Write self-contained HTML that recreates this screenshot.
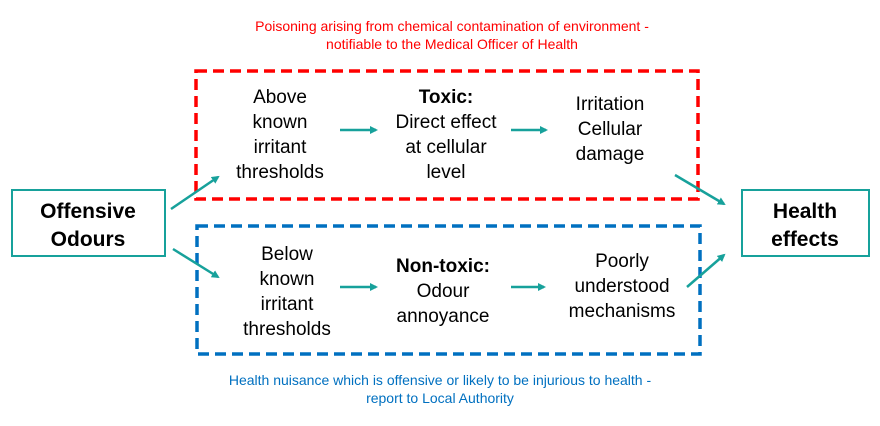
<!DOCTYPE html>
<html><head><style>
body{margin:0;background:#fff;}
svg text{font-family:"Liberation Sans",Arial,sans-serif;}
</style></head><body>
<svg width="880" height="421" viewBox="0 0 880 421" xmlns="http://www.w3.org/2000/svg">
<defs>
<marker id="a" markerWidth="8" markerHeight="8" refX="6" refY="4" orient="auto" markerUnits="userSpaceOnUse"><path d="M0,0 L8,4 L0,8 z" fill="#17a19b"/></marker>
</defs>
<text x="452" y="31" font-size="14" fill="#ff0000" text-anchor="middle">Poisoning arising from chemical contamination of environment -</text>
<text x="452" y="49" font-size="14" fill="#ff0000" text-anchor="middle">notifiable to the Medical Officer of Health</text>
<text x="440" y="385" font-size="14" fill="#0070c0" text-anchor="middle">Health nuisance which is offensive or likely to be injurious to health -</text>
<text x="440" y="403" font-size="14" fill="#0070c0" text-anchor="middle">report to Local Authority</text>
<rect x="196" y="71" width="502" height="128" fill="none" stroke="#ff0000" stroke-width="3.5" stroke-dasharray="11,6"/>
<rect x="197" y="226" width="503" height="128" fill="none" stroke="#0070c0" stroke-width="3.5" stroke-dasharray="11,6"/>
<rect x="12" y="190" width="153" height="66" fill="#fff" stroke="#17a19b" stroke-width="2"/>
<rect x="742" y="190" width="127" height="66" fill="#fff" stroke="#17a19b" stroke-width="2"/>
<g font-size="21" font-weight="bold" text-anchor="middle" fill="#000">
<text x="88" y="218">Offensive</text><text x="88" y="246">Odours</text>
<text x="805" y="218">Health</text><text x="805" y="246">effects</text>
</g>
<g font-size="19" text-anchor="middle" fill="#000">
<text x="280" y="103">Above</text><text x="280" y="128">known</text><text x="280" y="153">irritant</text><text x="280" y="178">thresholds</text>
<text x="446" y="103" font-weight="bold">Toxic:</text><text x="446" y="128">Direct effect</text><text x="446" y="153">at cellular</text><text x="446" y="178">level</text>
<text x="610" y="110">Irritation</text><text x="610" y="135">Cellular</text><text x="610" y="160">damage</text>
<text x="287" y="260">Below</text><text x="287" y="285">known</text><text x="287" y="310">irritant</text><text x="287" y="335">thresholds</text>
<text x="443" y="272" font-weight="bold">Non-toxic:</text><text x="443" y="297">Odour</text><text x="443" y="322">annoyance</text>
<text x="622" y="267">Poorly</text><text x="622" y="292">understood</text><text x="622" y="317">mechanisms</text>
</g>
<g stroke="#17a19b" stroke-width="2.5" marker-end="url(#a)">
<line x1="171" y1="209" x2="218" y2="177"/>
<line x1="173" y1="249" x2="218" y2="277"/>
<line x1="340" y1="130" x2="376" y2="130"/>
<line x1="511" y1="130" x2="546" y2="130"/>
<line x1="340" y1="287" x2="376" y2="287"/>
<line x1="511" y1="287" x2="544" y2="287"/>
<line x1="675" y1="175" x2="724" y2="204"/>
<line x1="687" y1="287" x2="724" y2="255"/>
</g>
</svg>
</body></html>
